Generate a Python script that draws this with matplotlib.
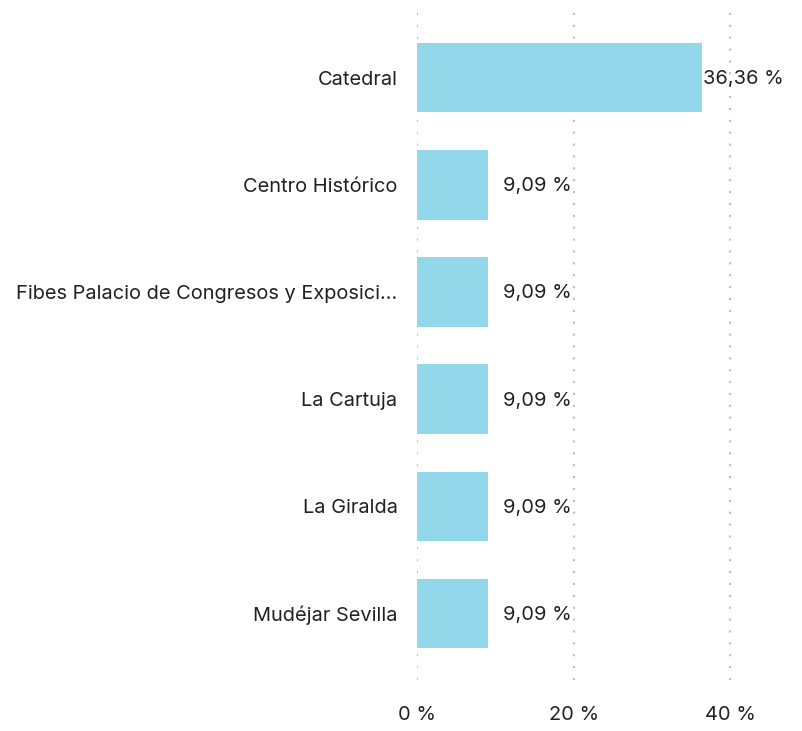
import matplotlib.pyplot as plt

# Share of items per location (%)
locations = [
    "Catedral",
    "Centro Histórico",
    "Fibes Palacio de Congresos y Exposici…",
    "La Cartuja",
    "La Giralda",
    "Mudéjar Sevilla",
]
shares = [36.36, 9.09, 9.09, 9.09, 9.09, 9.09]
xticks = [0, 20, 40]

plt.rcParams["font.family"] = ["Inter", "DejaVu Sans"]
TEXT = "#222222"
FS = 14.4

fig = plt.figure(figsize=(8.02, 7.31), dpi=100)
ax = fig.add_axes([417 / 802, 1 - 680 / 731, 368 / 802, 672 / 731])

ypos = range(len(locations))
ax.barh(ypos, shares, height=0.65, color="#92d8ea", zorder=2)

for y, v in zip(ypos, shares):
    txt = f"{v:.2f} %".replace(".", ",")
    if v < 20:
        ax.annotate(txt, (20, y), xytext=(-1, -1), textcoords="offset points",
                    ha="right", va="center", fontsize=FS, color=TEXT)
    else:
        ax.annotate(txt, (v, y), xytext=(1, -1), textcoords="offset points",
                    ha="left", va="center", fontsize=FS, color=TEXT)

ax.set_xlim(0, 47)
ax.set_ylim(5.62, -0.65)
ax.set_xticks(xticks)
ax.set_xticklabels([f"{t} %" for t in xticks])
ax.set_yticks(list(ypos))
ax.set_yticklabels(locations)
ax.tick_params(axis="both", length=0, labelsize=FS, labelcolor=TEXT)
ax.tick_params(axis="x", pad=19)
ax.tick_params(axis="y", pad=14)

ax.grid(axis="x", color="#bdbdbd", linestyle=(0, (1, 4.7)), linewidth=1.5, zorder=0)
for s in ax.spines.values():
    s.set_visible(False)

plt.savefig("out.png", dpi=100)
plt.close()
